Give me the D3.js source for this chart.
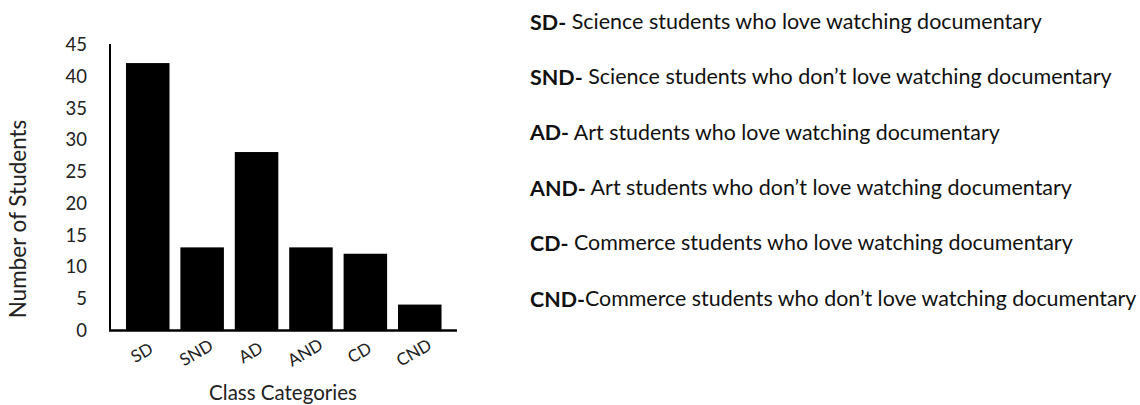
<!DOCTYPE html>
<html><head><meta charset="utf-8">
<script src="https://cdn.jsdelivr.net/npm/d3@7"></script>
<style>html,body{margin:0;padding:0;background:#fff;}svg{display:block;}</style>
</head><body>
<svg id="c" width="1140" height="405"></svg>
<script>
const categories = ["SD","SND","AD","AND","CD","CND"];
const values = [42, 13, 28, 13, 12, 4];
const yTicks = [0,5,10,15,20,25,30,35,40,45];
const legendCodes = ["SD-","SND-","AD-","AND-","CD-","CND-"];
const legendTexts = [
  " Science students who love watching documentary",
  " Science students who don\u2019t love watching documentary",
  " Art students who love watching documentary",
  " Art students who don\u2019t love watching documentary",
  " Commerce students who love watching documentary",
  "Commerce students who don\u2019t love watching documentary"
];
const legendWidths = [512, 582, 470, 542, 543, 607];

const svg = d3.select("#c");
const font = "Lato, 'Open Sans', sans-serif";
const txt = "#222";

const y = d3.scaleLinear().domain([0,45]).range([330,44]);
const x = d3.scaleBand().domain(categories).range([115.1,452.4]).paddingInner(0.2).paddingOuter(0.2);

// bars
svg.selectAll("rect.bar").data(values).join("rect")
  .attr("class","bar")
  .attr("x",(d,i)=>x(categories[i]))
  .attr("width",x.bandwidth())
  .attr("y",d=>y(d))
  .attr("height",d=>y(0)-y(d))
  .attr("fill","#000");

// axes lines
svg.append("line").attr("x1",110).attr("x2",110).attr("y1",y(45)).attr("y2",y(0)+1)
  .attr("stroke","#000").attr("stroke-width",2);
svg.append("line").attr("x1",109).attr("x2",457).attr("y1",y(0)+0.5).attr("y2",y(0)+0.5)
  .attr("stroke","#000").attr("stroke-width",2.5);

// y tick labels
const yAxis = d3.axisLeft(y).tickValues(yTicks).tickSize(0).tickPadding(0);
const gy = svg.append("g").attr("transform","translate(87,0)").call(yAxis);
gy.select(".domain").remove();
gy.selectAll("text").attr("font-family",font).attr("font-size",18.5).attr("fill",txt).attr("dy","0.35em");

// x category labels
svg.selectAll("text.cat").data(categories).join("text")
  .attr("class","cat")
  .attr("transform",d=>`translate(${x(d)+x.bandwidth()/2-5},354) rotate(-30)`)
  .attr("text-anchor","middle")
  .attr("dominant-baseline","middle")
  .attr("font-family",font).attr("font-size",17).attr("fill",txt)
  .text(d=>d);

// axis titles
svg.append("text").attr("x",283).attr("y",395).attr("text-anchor","middle")
  .attr("dominant-baseline","middle")
  .attr("font-family",font).attr("font-size",20.5).attr("fill",txt).text("Class Categories");
svg.append("text").attr("transform","translate(20,219) rotate(-90)").attr("text-anchor","middle")
  .attr("dominant-baseline","middle")
  .attr("font-family",font).attr("font-size",22.5).attr("fill",txt).text("Number of Students");

// legend text
const lg = svg.selectAll("text.leg").data(legendCodes).join("text")
  .attr("class","leg")
  .attr("x",530)
  .attr("y",(d,i)=>24+i*55.3)
  .attr("dominant-baseline","middle")
  .attr("font-family",font).attr("font-size",17).attr("fill","#111");
lg.append("tspan").attr("font-weight","bold").text(d=>d);
lg.append("tspan").text((d,i)=>legendTexts[i]);
lg.each(function(d,i){
  const w = this.getComputedTextLength();
  const fs = 17*legendWidths[i]/w;
  d3.select(this).attr("font-size",fs);
});
</script>
</body></html>
